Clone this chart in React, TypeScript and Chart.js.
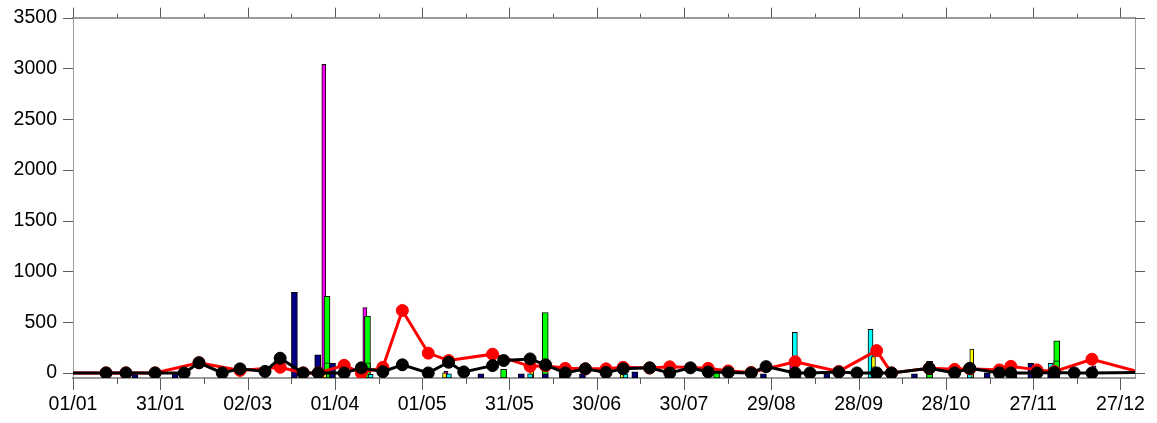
import { useEffect, useRef } from "react";
import { Chart, registerables } from "chart.js";

Chart.register(...registerables);

// ---- axis ranges & ticks (day-of-year, 0 = 1 Jan) ----
const YEAR = 2019;
const X_MIN = 0;
const X_MAX = 365;
const Y_MIN = -50;
const Y_MAX = 3500;
const MAJOR_DAYS = [0, 30, 60, 90, 120, 150, 180, 210, 240, 270, 300, 330, 360];
const MINOR_DAYS = [15, 45, 75, 105, 135, 165, 195, 225, 255, 285, 315, 345];
const Y_TICKS = [0, 500, 1000, 1500, 2000, 2500, 3000, 3500];

// ---- line series (shared sampling days) ----
const lineDays = [0, 11.35, 18.2, 28.2, 38.2, 43.3, 51.3, 57.4, 66.0, 71.2, 79.1, 84.3, 93.2, 99.1, 106.5, 113.2, 122.1, 129.1, 134.3, 144.2, 148.0, 157.1, 162.4, 169.2, 176.1, 183.2, 189.1, 198.2, 205.1, 212.2, 218.3, 225.2, 233.1, 238.2, 248.2, 253.3, 263.2, 269.4, 276.2, 281.3, 294.3, 303.0, 308.2, 318.4, 322.3, 331.3, 337.3, 344.1, 350.2, 365];
const blackValues = [0, 0, 0, 0, 0, 100, 0, 40, 15, 145, 0, 0, 0, 50, 12, 80, 0, 105, 10, 72, 122, 138, 80, 0, 40, 5, 40, 50, 0, 50, 10, 5, 0, 62, 0, 0, 8, 0, 0, 0, 45, 0, 45, 0, 0, 0, 5, 0, 0, 5];
const redValues: (number | null)[] = [0, 0, 0, 0, null, 100, null, 25, null, 55, 0, 0, 75, 0, 55, 615, 195, 122, null, 185, null, 65, 70, 45, 40, 40, 55, 48, 60, null, 45, 20, 5, null, 110, null, 15, null, 220, 0, 45, 35, 40, 30, 65, 30, 15, null, 135, 20];

// ---- bar series ----
const navyDays = [21.3, 35.1, 76.1, 84.1, 89.2, 140.2, 154.1, 162.3, 168.2, 175.1, 193.1, 204.5, 237.3, 259.1, 289.2, 294.4, 314.2, 323.4, 329.2, 336.0];
const navyValues = [-15, -15, 795, 178, 95, -10, -10, -10, -10, -10, 10, -10, -10, -10, -10, 115, 0, -10, 95, -10];
const magentaDays = [86.2, 100.3, 128.2, 247.0, 350.9];
const magentaValues = [3040, 645, 15, 80, 70];
const greenDays = [87.3, 87.3, 101.2, 101.2, 148.0, 162.3, 221.2, 249.2, 294.4, 338.1, 338.1];
const greenValues = [755, 100, 560, 100, 35, 595, 0, -10, -15, 317, 118];
const cyanDays = [102.3, 129.2, 157.1, 189.9, 248.1, 274.1, 308.2, 336.0];
const cyanValues = [-15, -10, -10, -10, 400, 430, -15, 95];
const yellowDays = [86.5, 127.7, 157.7, 188.7, 218.4, 275.1, 275.1, 308.9];
const yellowValues = [-10, 0, 20, -10, 0, 160, 60, 235];

const FONT = { family: "'Liberation Sans', Arial, sans-serif", size: 19.5 };
const TICK_COLOR = "#5a5a5a";
const AXIS_COLOR = "#9a9a9a";

const fmtDay = (d: number) => {
  const dt = new Date(Date.UTC(YEAR, 0, 1) + Math.round(d) * 86400000);
  const dd = String(dt.getUTCDate()).padStart(2, "0");
  const mm = String(dt.getUTCMonth() + 1).padStart(2, "0");
  return `${dd}/${mm}`;
};

const barSeries = [
  { color: "#000080", thickness: 6, days: navyDays, values: navyValues },
  { color: "#00ff00", thickness: 6, days: greenDays, values: greenValues },
  { color: "#00ffff", thickness: 5, days: cyanDays, values: cyanValues },
  { color: "#ffff00", thickness: 4, days: yellowDays, values: yellowValues },
  { color: "#ff00ff", thickness: 4, days: magentaDays, values: magentaValues },
];
// smaller bars are painted over taller ones
const LAYERS = [
  { lo: -Infinity, hi: 50 },
  { lo: 50, hi: 300 },
  { lo: 300, hi: Infinity },
];

// tick marks on all four sides of the frame, placed through the scales
const frameTicks = {
  id: "frameTicks",
  afterDraw(chart: any) {
    const { ctx, chartArea, scales } = chart;
    const xs = scales.x;
    const ys = scales.y;
    const al = (v: number) => Math.round(v) + 0.5;
    ctx.save();
    ctx.strokeStyle = TICK_COLOR;
    ctx.lineWidth = 1;
    ctx.beginPath();
    for (const d of MAJOR_DAYS) {
      const px = al(xs.getPixelForValue(d));
      ctx.moveTo(px, chartArea.bottom);
      ctx.lineTo(px, chartArea.bottom + 12);
      ctx.moveTo(px, chartArea.top);
      ctx.lineTo(px, chartArea.top - 10);
    }
    for (const d of MINOR_DAYS) {
      const px = al(xs.getPixelForValue(d));
      ctx.moveTo(px, chartArea.bottom);
      ctx.lineTo(px, chartArea.bottom + 6);
      ctx.moveTo(px, chartArea.top);
      ctx.lineTo(px, chartArea.top - 4);
    }
    for (const v of Y_TICKS) {
      const py = al(ys.getPixelForValue(v));
      ctx.moveTo(chartArea.left - 10, py);
      ctx.lineTo(chartArea.left, py);
      ctx.moveTo(chartArea.right, py);
      ctx.lineTo(chartArea.right + 10, py);
    }
    ctx.stroke();
    ctx.restore();
  },
};

export default function App() {
  const ref = useRef<HTMLCanvasElement | null>(null);

  useEffect(() => {
    if (!ref.current) return;
    const edge = (ctx: any) => {
      const raw = ctx.raw;
      return raw && (raw.x <= X_MIN || raw.x >= X_MAX) ? 0 : 6;
    };
    const datasets: any[] = [
      {
        type: "line",
        data: lineDays.map((d, i) => ({ x: d, y: blackValues[i] })),
        borderColor: "#000000",
        backgroundColor: "#000000",
        borderWidth: 3,
        pointRadius: edge,
        pointBorderWidth: 1,
        pointBackgroundColor: "#000000",
        pointBorderColor: "#000000",
        order: 0,
      },
      {
        type: "line",
        data: lineDays
          .map((d, i) => ({ x: d, y: redValues[i] }))
          .filter((p) => p.y !== null),
        borderColor: "#ff0000",
        backgroundColor: "#ff0000",
        borderWidth: 3,
        pointRadius: edge,
        pointBorderWidth: 1,
        pointBackgroundColor: "#ff0000",
        pointBorderColor: "#ff0000",
        order: 1,
      },
    ];
    LAYERS.forEach((layer, li) => {
      barSeries.forEach((s, si) => {
        const pts = s.days
          .map((d, i) => ({ x: d, y: s.values[i] }))
          .filter((p) => p.y >= layer.lo && p.y < layer.hi);
        if (!pts.length) return;
        datasets.push({
          type: "bar",
          data: pts,
          backgroundColor: s.color,
          borderColor: "#000000",
          borderWidth: 1,
          borderSkipped: false,
          barThickness: s.thickness,
          grouped: false,
          base: Y_MIN,
          order: 2 + li * 5 + si,
        });
      });
    });

    const setMajor = (s: any) => {
      s.ticks = MAJOR_DAYS.map((v) => ({ value: v }));
    };
    const setY = (s: any) => {
      s.ticks = Y_TICKS.map((v) => ({ value: v }));
    };
    // invisible built-in tick marks only reserve label spacing; visible ticks come from frameTicks
    const hiddenTicks = (len: number) => ({
      display: true,
      drawOnChartArea: false,
      drawTicks: true,
      tickLength: len,
      tickColor: "rgba(0,0,0,0)",
      color: "rgba(0,0,0,0)",
    });

    const chart = new Chart(ref.current, {
      type: "bar",
      data: { datasets },
      plugins: [frameTicks],
      options: {
        animation: false,
        responsive: false,
        maintainAspectRatio: false,
        layout: { padding: 0 },
        plugins: { legend: { display: false }, tooltip: { enabled: false } },
        scales: {
          x: {
            type: "linear",
            position: "bottom",
            min: X_MIN,
            max: X_MAX,
            offset: false,
            afterBuildTicks: setMajor,
            afterFit: (s: any) => { s.height = 45; },
            grid: hiddenTicks(12),
            border: { display: true, color: AXIS_COLOR, width: 2 },
            ticks: {
              autoSkip: false,
              maxRotation: 0,
              padding: 3,
              color: "#000000",
              font: FONT,
              callback: (v: any) => fmtDay(Number(v)),
            },
          },
          xTop: {
            type: "linear",
            position: "top",
            min: X_MIN,
            max: X_MAX,
            offset: false,
            afterBuildTicks: setMajor,
            afterFit: (s: any) => { s.height = 16; },
            grid: hiddenTicks(10),
            border: { display: true, color: AXIS_COLOR, width: 2 },
            ticks: { autoSkip: false, maxRotation: 0, padding: 0, callback: () => "" },
          },
          y: {
            type: "linear",
            position: "left",
            min: Y_MIN,
            max: Y_MAX,
            afterBuildTicks: setY,
            afterFit: (s: any) => { s.width = 73; },
            grid: hiddenTicks(10),
            border: { display: true, color: AXIS_COLOR, width: 1 },
            ticks: {
              padding: 6,
              color: "#000000",
              font: FONT,
              callback: (v: any) => String(v),
            },
          },
          yRight: {
            type: "linear",
            position: "right",
            min: Y_MIN,
            max: Y_MAX,
            afterBuildTicks: setY,
            afterFit: (s: any) => { s.width = 22; },
            grid: hiddenTicks(10),
            border: { display: true, color: AXIS_COLOR, width: 1 },
            ticks: { padding: 0, callback: () => "" },
          },
        },
      } as any,
    });
    return () => chart.destroy();
  }, []);

  return (
    <div style={{ position: "absolute", left: 0, top: 0, width: 1157, height: 423, background: "#ffffff" }}>
      <canvas ref={ref} width={1157} height={423} style={{ display: "block" }} />
    </div>
  );
}
